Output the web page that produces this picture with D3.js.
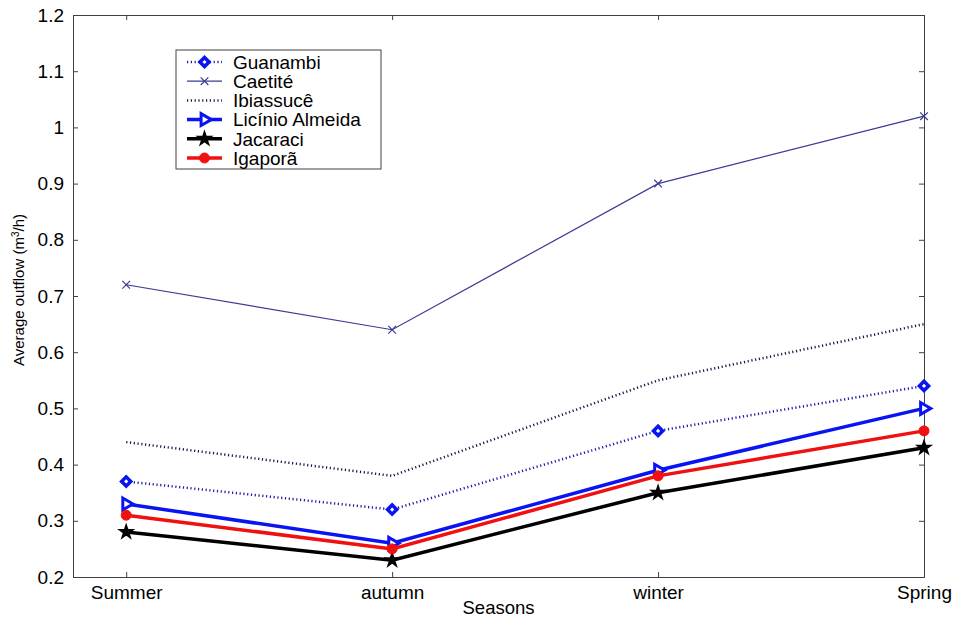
<!DOCTYPE html>
<html>
<head>
<meta charset="utf-8">
<script src="https://cdn.jsdelivr.net/npm/d3@7"></script>
<style>
  body { margin: 0; background: #fff; }
  text { font-family: "Liberation Sans", Arial, Helvetica, sans-serif; }
</style>
</head>
<body>
<svg id="svg"></svg>
<script>
// data
const seasons = ["Summer", "autumn", "winter", "Spring"];
const guanambi = [0.37, 0.32, 0.46, 0.54];
const caetite = [0.72, 0.64, 0.90, 1.02];
const ibiassuce = [0.44, 0.38, 0.55, 0.65];
const licinio = [0.33, 0.26, 0.39, 0.50];
const jacaraci = [0.28, 0.23, 0.35, 0.43];
const igapora = [0.31, 0.25, 0.38, 0.46];
const yTicks = [0.2, 0.3, 0.4, 0.5, 0.6, 0.7, 0.8, 0.9, 1, 1.1, 1.2];

// series styling (kept apart from values)
const series = [
  { name: "Guanambi", values: guanambi, color: "#1c1ca8", width: 2.5, dash: "1.2,2.6", marker: "diamond" },
  { name: "Caetité", values: caetite, color: "#3b3b96", width: 1.2, dash: null, marker: "x" },
  { name: "Ibiassucê", values: ibiassuce, color: "#1a1a4a", width: 2.5, dash: "1.2,2.6", marker: null },
  { name: "Licínio Almeida", values: licinio, color: "#0a14f0", width: 3.5, dash: null, marker: "triangle" },
  { name: "Jacaraci", values: jacaraci, color: "#000000", width: 3.5, dash: null, marker: "star" },
  { name: "Igaporã", values: igapora, color: "#f01010", width: 3.5, dash: null, marker: "circle" }
];

const W = 955, H = 623;
const margin = { top: 15, right: 31, bottom: 46, left: 73 };
const width = W - margin.left - margin.right;
const height = H - margin.top - margin.bottom;

const svg = d3.select("#svg").attr("width", W).attr("height", H);

const x = d3.scaleLinear().domain([0.8, 4]).range([0, width]);
const y = d3.scaleLinear().domain([0.2, 1.2]).range([height, 0]);

const g = svg.append("g").attr("transform", `translate(${margin.left},${margin.top})`);

const axisColor = "#404040";
const catIdx = seasons.map((s, i) => i + 1);

// AXES (ticks point inward, box all round)
const xAxis = g.append("g")
  .attr("transform", `translate(0,${height})`)
  .call(d3.axisBottom(x).tickValues(catIdx).tickSize(-5).tickPadding(9)
    .tickFormat(d => seasons[d - 1]));
const xTop = g.append("g")
  .call(d3.axisTop(x).tickValues(catIdx).tickSize(-5).tickFormat(""));
const yAxis = g.append("g")
  .call(d3.axisLeft(y).tickValues(yTicks).tickSize(-5).tickPadding(9)
    .tickFormat(d3.format("~g")));
const yRight = g.append("g")
  .attr("transform", `translate(${width},0)`)
  .call(d3.axisRight(y).tickValues(yTicks).tickSize(-5).tickFormat(""));

[xAxis, xTop, yAxis, yRight].forEach(a => {
  a.select(".domain").attr("stroke", axisColor);
  a.selectAll(".tick line").attr("stroke", axisColor);
  a.selectAll("text").attr("fill", "#000").attr("font-size", "19px")
    .attr("font-family", "Liberation Sans, Arial, sans-serif");
});

// AXIS LABELS
svg.append("text")
  .attr("x", margin.left + width / 2)
  .attr("y", 614)
  .attr("text-anchor", "middle")
  .attr("font-size", "18.5px")
  .text("Seasons");

const yl = svg.append("text")
  .attr("transform", `translate(24,${margin.top + height / 2 - 6}) rotate(-90)`)
  .attr("text-anchor", "middle")
  .attr("font-size", "15px")
  .text("Average outflow (m");
yl.append("tspan").attr("baseline-shift", "super").attr("font-size", "10px").text("3");
yl.append("tspan").text("/h)");

// MARKERS
function drawMarker(sel, s, cx, cy) {
  const m = s.marker;
  if (m === "diamond") {
    sel.append("path")
      .attr("d", d3.symbol(d3.symbolSquare, 42)())
      .attr("transform", `translate(${cx},${cy}) rotate(45)`)
      .attr("fill", "#fff").attr("stroke", "#0a14f0").attr("stroke-width", 3.5);
  } else if (m === "x") {
    sel.append("path")
      .attr("d", d3.symbol(d3.symbolX, 40)())
      .attr("transform", `translate(${cx},${cy})`)
      .attr("fill", "none").attr("stroke", s.color).attr("stroke-width", 1.2);
  } else if (m === "triangle") {
    sel.append("path")
      .attr("d", d3.symbol(d3.symbolTriangle, 60)())
      .attr("transform", `translate(${cx},${cy}) rotate(90)`)
      .attr("fill", "#fff").attr("stroke", s.color).attr("stroke-width", 3);
  } else if (m === "star") {
    sel.append("path")
      .attr("d", d3.symbol(d3.symbolStar, 45)())
      .attr("transform", `translate(${cx},${cy})`)
      .attr("fill", "#000").attr("stroke", "#000").attr("stroke-width", 2);
  } else if (m === "circle") {
    sel.append("circle")
      .attr("cx", cx).attr("cy", cy).attr("r", 5)
      .attr("fill", s.color).attr("stroke", s.color).attr("stroke-width", 1);
  }
}

// LINES
const line = d3.line()
  .x((d, i) => x(i + 1))
  .y(d => y(d));

series.forEach(s => {
  g.append("path")
    .datum(s.values)
    .attr("d", line)
    .attr("fill", "none")
    .attr("stroke", s.color)
    .attr("stroke-width", s.width)
    .attr("stroke-dasharray", s.dash);
  s.values.forEach((v, i) => drawMarker(g, s, x(i + 1), y(v)));
});

// LEGEND
const legend = svg.append("g").attr("transform", "translate(176,50)");
legend.append("rect")
  .attr("width", 205).attr("height", 119)
  .attr("fill", "#fff").attr("stroke", axisColor).attr("stroke-width", 1);

series.forEach((s, i) => {
  const ly = 12 + i * 19.2;
  legend.append("line")
    .attr("x1", 11).attr("x2", 46).attr("y1", ly).attr("y2", ly)
    .attr("stroke", s.color).attr("stroke-width", s.width)
    .attr("stroke-dasharray", s.dash);
  drawMarker(legend, s, 28.5, ly);
  legend.append("text")
    .attr("x", 57).attr("y", ly).attr("dy", "0.36em")
    .attr("font-size", "19px")
    .text(s.name);
});
</script>
</body>
</html>
